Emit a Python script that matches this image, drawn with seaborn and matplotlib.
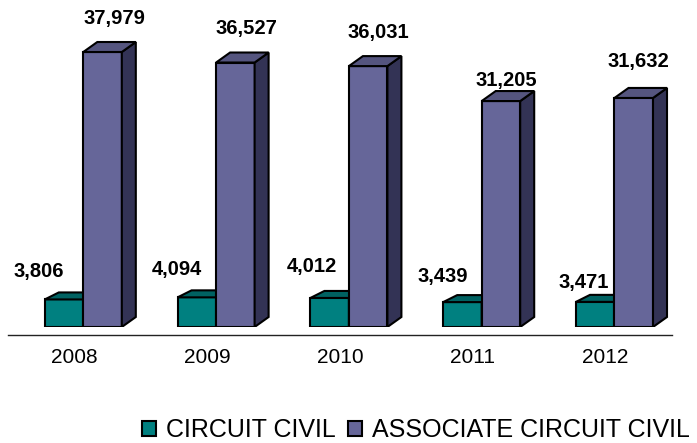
import numpy as np
import pandas as pd
import matplotlib.pyplot as plt
import seaborn as sns
from matplotlib.patches import Polygon

# data
years = ['2008', '2009', '2010', '2011', '2012']
circuit_civil = [3806, 4094, 4012, 3439, 3471]
associate_civil = [37979, 36527, 36031, 31205, 31632]
series_names = ['CIRCUIT CIVIL', 'ASSOCIATE CIRCUIT CIVIL']

# colours: front / top / side faces of the fake 3D columns
front_colors = ['#008080', '#666699']
top_colors = ['#006262', '#55557f']
side_colors = ['#004c4c', '#333355']

# label nudges in pixels (dx from bar centre, dy above bar top)
label_nudge = [
    [(-25, 29), (-20, 29), (-18, 33), (-20, 27), (-12, 21)],
    [(12, 35), (11, 36), (10, 35), (5, 22), (5, 38)],
]

df = pd.DataFrame({
    'year': years * 2,
    'series': [series_names[0]] * len(years) + [series_names[1]] * len(years),
    'cases': circuit_civil + associate_civil,
})

sns.set_style('white')
plt.rcParams['font.family'] = ['Liberation Sans', 'DejaVu Sans']
plt.rcParams['text.color'] = 'black'
plt.rcParams['xtick.color'] = 'black'
plt.rcParams['xtick.labelcolor'] = 'black'

fig = plt.figure(figsize=(6.97, 4.43), dpi=100)
ax_w, ax_h = 664, 300
ax = fig.add_axes([8 / 697, (443 - 327) / 443, ax_w / 697, ax_h / 443])
ymax = ax_h / (275 / 37979)

sns.barplot(data=df, x='year', y='cases', hue='series', palette=front_colors,
            saturation=1, width=0.58, edgecolor='black', linewidth=1.5,
            errorbar=None, ax=ax)
ax.set_xlim(-0.5, len(years) - 0.5)
ax.set_ylim(0, ymax)

# pixel -> data conversion for the depth faces
px_x = len(years) / ax_w
px_y = ymax / ax_h
depth = [(14, 7), (14, 10)]
shift = 0.067

for k, bars in enumerate(ax.containers):
    ddx, ddy = depth[k][0] * px_x, depth[k][1] * px_y
    z = 3 if k == 0 else 5
    for i, bar in enumerate(bars):
        bar.set_x(bar.get_x() + shift)
        bar.set_zorder(z)
        x0, w, h = bar.get_x(), bar.get_width(), bar.get_height()
        top = Polygon([(x0, h), (x0 + ddx, h + ddy), (x0 + w + ddx, h + ddy), (x0 + w, h)],
                      closed=True, facecolor=top_colors[k], edgecolor='black',
                      linewidth=1.5, zorder=z, joinstyle='miter')
        side = Polygon([(x0 + w, 0), (x0 + w, h), (x0 + w + ddx, h + ddy), (x0 + w + ddx, ddy)],
                       closed=True, facecolor=side_colors[k], edgecolor='black',
                       linewidth=1.5, zorder=z, joinstyle='miter')
        ax.add_patch(side)
        ax.add_patch(top)

    vals = [circuit_civil, associate_civil][k]
    for i, bar in enumerate(bars):
        dx, dy = label_nudge[k][i]
        ax.annotate(f'{vals[i]:,}', (bar.get_x() + bar.get_width() / 2, bar.get_height()),
                    xytext=(dx, dy - 7), textcoords='offset pixels',
                    ha='center', va='baseline', fontsize=14.5, fontweight='bold',
                    color='black', annotation_clip=False, zorder=6)

# axis styling
sns.despine(ax=ax, left=True)
ax.spines['bottom'].set_position(('outward', 5.8))
ax.spines['bottom'].set_color('#222222')
ax.spines['bottom'].set_linewidth(1)
ax.set_yticks([])
ax.set_xticks(range(len(years)))
ax.set_xticklabels(years)
ax.set_xticks(np.arange(-0.5, len(years), 1), minor=True)
ax.tick_params(axis='x', which='major', length=0, pad=9.5, labelsize=15, labelcolor='black')
ax.tick_params(axis='x', which='minor', length=4, width=1, color='#222222', direction='out')
ax.set_xlabel('')
ax.set_ylabel('')

handles, labels = ax.get_legend_handles_labels()
ax.legend_.remove()
fig.legend(handles, labels, loc='center left', bbox_to_anchor=(142 / 697, 1 - 430 / 443),
           ncol=2, frameon=False, fontsize=18, handlelength=0.55, handleheight=0.55,
           handletextpad=0.4, columnspacing=0.5, borderpad=0, borderaxespad=0,
           labelcolor='black')

fig.savefig('out.png', dpi=100)
